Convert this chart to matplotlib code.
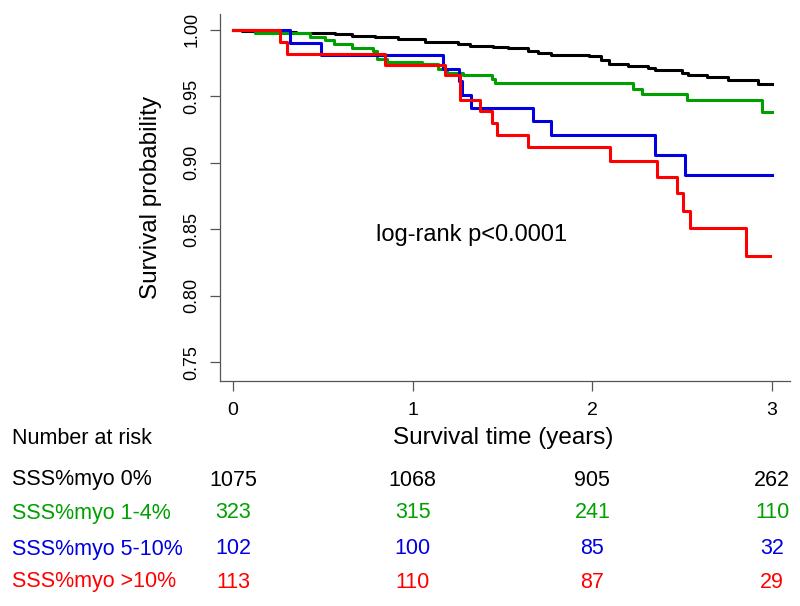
import matplotlib
matplotlib.use("Agg")
import matplotlib.pyplot as plt
import matplotlib.transforms as mtransforms

plt.rcParams['font.family'] = ['Liberation Sans', 'DejaVu Sans']

# Kaplan-Meier step curves (time in years, survival)
t_0 = [0, 0.05, 0.14, 0.35, 0.57, 0.66, 0.79, 0.92, 1.07, 1.18, 1.25, 1.32, 1.45, 1.53,
       1.64, 1.70, 1.77, 1.98, 2.05, 2.09, 2.20, 2.31, 2.35, 2.50, 2.53, 2.64, 2.755, 2.92, 3.0]
s_0 = [1.0, 0.999, 0.998, 0.9975, 0.9964, 0.9955, 0.9944, 0.993, 0.991, 0.9905, 0.9895, 0.9876,
       0.987, 0.986, 0.9836, 0.9825, 0.981, 0.980, 0.977, 0.9743, 0.973, 0.971, 0.9694, 0.9673,
       0.966, 0.9643, 0.9619, 0.9589, 0.9589]

t_1_4 = [0, 0.122, 0.43, 0.51, 0.56, 0.66, 0.78, 0.80, 0.86, 1.05, 1.14, 1.19, 1.28, 1.44,
         1.46, 2.226, 2.274, 2.525, 2.942, 2.998]
s_1_4 = [1.0, 0.9974, 0.9944, 0.992, 0.9893, 0.9863, 0.984, 0.978, 0.9756, 0.974, 0.9706,
         0.9676, 0.966, 0.9632, 0.9598, 0.9556, 0.9513, 0.9468, 0.938, 0.938]

t_5_10 = [0, 0.317, 0.49, 1.17, 1.26, 1.277, 1.323, 1.668, 1.768, 2.348, 2.515, 2.998]
s_5_10 = [1.0, 0.990, 0.9806, 0.9706, 0.961, 0.951, 0.9413, 0.931, 0.921, 0.906, 0.891, 0.891]

t_10 = [0, 0.26, 0.30, 0.846, 1.18, 1.263, 1.375, 1.44, 1.467, 1.643, 2.098, 2.358, 2.469,
        2.504, 2.543, 2.853, 2.988]
s_10 = [1.0, 0.9906, 0.9818, 0.9731, 0.9656, 0.947, 0.9385, 0.9296, 0.921, 0.912, 0.9016,
        0.889, 0.877, 0.864, 0.851, 0.830, 0.830]

groups = ['SSS%myo 0%', 'SSS%myo 1-4%', 'SSS%myo 5-10%', 'SSS%myo >10%']
colors = ['black', '#00a000', '#0000e0', '#ff0000']
curves = [(t_0, s_0), (t_1_4, s_1_4), (t_5_10, s_5_10), (t_10, s_10)]

# number at risk at 0, 1, 2, 3 years
risk_times = [0, 1, 2, 3]
at_risk = [
    [1075, 1068, 905, 262],
    [323, 315, 241, 110],
    [102, 100, 85, 32],
    [113, 110, 87, 29],
]

fig = plt.figure(figsize=(8, 6.06), dpi=100)
ax = fig.add_axes([0.275, 0.3713, 0.7125, 0.6063])

for (t, s), c in zip(curves, colors):
    ax.step(t, s, where='post', color=c, lw=2.2)

ax.set_xlim(-0.072, 3.1)
ax.set_ylim(0.7361, 1.012)
ax.set_xticks(risk_times)
ax.set_yticks([0.75, 0.80, 0.85, 0.90, 0.95, 1.00])
ax.set_yticklabels(['0.75', '0.80', '0.85', '0.90', '0.95', '1.00'], rotation=90, va='center')
for sp in ['top', 'right']:
    ax.spines[sp].set_visible(False)
for sp in ['left', 'bottom']:
    ax.spines[sp].set_color('#555555')
    ax.spines[sp].set_linewidth(0.9)
ax.tick_params(axis='both', direction='out', length=7, width=0.9, color='#555555')
ax.tick_params(axis='x', pad=8, labelsize=14)
ax.tick_params(axis='y', pad=7, labelsize=13)

ax.text(1.33, 0.8457, 'log-rank p<0.0001', fontsize=17, ha='center', va='center')

fig.text(151 / 800, 1 - 197 / 606, 'Survival probability', rotation=90,
         fontsize=17.5, ha='center', va='center')
fig.text(503 / 800, 1 - 438 / 606, 'Survival time (years)', fontsize=17.5,
         ha='center', va='center')

# risk table
fig.text(12 / 800, 1 - 438 / 606, 'Number at risk', fontsize=15.5, ha='left', va='center')
trans = mtransforms.blended_transform_factory(ax.transData, fig.transFigure)
row_y = [480, 513, 549, 582]
for name, c, counts, yy in zip(groups, colors, at_risk, row_y):
    fig.text(12 / 800, 1 - yy / 606, name, color=c, fontsize=15.5, ha='left', va='center')
    for tt, n in zip(risk_times, counts):
        ax.text(tt, 1 - yy / 606, str(n), color=c, fontsize=15.5, ha='center', va='center',
                transform=trans, clip_on=False)

fig.savefig('out.png', dpi=100)
